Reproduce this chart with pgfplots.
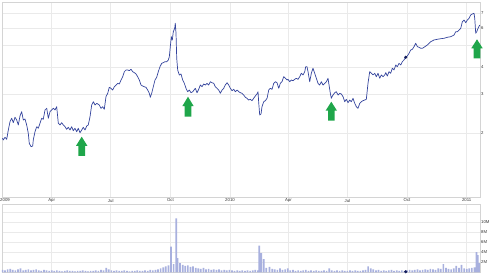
\documentclass[border=0pt]{standalone}
\usepackage{fontspec}
\setmainfont{Liberation Sans}
\usepackage{pgfplots}
\usepackage{pgfplotstable}
\pgfplotsset{compat=1.18}
\definecolor{priceline}{HTML}{33439C}
\definecolor{volbar}{HTML}{A8B0DE}
\definecolor{gridc}{HTML}{EAEAEA}
\definecolor{framec}{HTML}{D4D4D4}
\definecolor{labc}{HTML}{333333}
\definecolor{arrowgreen}{HTML}{1FA64A}
\definecolor{marknavy}{HTML}{101A5A}

\pgfplotstableread{
d p
14 1.892
15.3 1.859
18.0 1.912
20.6 1.872
23.1 2.064
25.7 2.251
28.3 2.333
30.8 2.228
33.4 2.357
36.0 2.292
38.5 2.175
41.1 2.390
43.7 2.500
46.2 2.292
48.8 2.316
51.4 2.175
53.9 1.994
55.4 1.796
58.1 1.733
60.7 1.745
61.6 1.859
64.2 2.027
66.9 2.136
69.3 2.101
71.9 2.214
74.6 2.333
77.0 2.308
79.7 2.545
82.3 2.590
84.8 2.333
87.4 2.500
90.0 2.545
92.5 2.590
95.1 2.545
97.7 2.634
100.2 2.214
102.8 2.175
105.4 2.228
107.9 2.175
110.5 2.136
113.1 2.079
115.6 2.123
118.2 2.064
120.8 2.136
123.3 2.049
125.9 2.101
128.6 2.027
131.0 2.101
133.6 2.006
136.3 2.064
138.7 2.123
141.4 2.064
144.0 2.152
146.4 2.175
149.1 2.372
151.7 2.681
154.2 2.775
156.8 2.681
159.4 2.729
163.4 2.681
166.0 2.590
168.6 2.634
171.1 2.563
173.7 2.924
176.4 3.030
178.8 3.226
181.5 3.193
184.1 3.136
186.5 3.246
189.2 3.305
191.8 3.364
194.3 3.340
196.9 3.482
199.5 3.605
202.0 3.800
204.6 3.868
207.2 3.868
209.7 3.840
212.3 3.897
214.9 3.800
217.4 3.761
220.0 3.710
222.6 3.605
225.1 3.482
227.7 3.305
230.3 3.270
232.8 3.246
235.4 3.226
238.0 3.136
240.5 3.030
242.1 2.906
244.2 3.030
246.7 3.246
249.3 3.482
251.9 3.582
254.4 3.800
257.0 4.003
259.7 4.148
262.1 4.174
264.7 4.218
267.4 4.218
269.8 4.294
271.4 4.445
272.9 4.937
274.5 5.480
276.0 5.294
277.5 5.773
279.7 5.983
280.6 6.304
281.7 5.678
282.8 4.371
284.3 3.868
286.8 3.671
289.4 3.710
292.0 3.482
294.5 3.364
297.1 3.193
299.7 3.081
302.2 3.136
304.8 3.049
307.5 3.081
311.5 3.193
314.1 3.049
316.7 3.159
319.2 3.305
321.8 3.246
324.4 3.340
326.9 3.305
329.5 3.364
332.1 3.305
334.6 3.421
337.2 3.385
339.9 3.364
342.3 3.246
345.0 3.193
347.6 3.136
350.0 3.030
352.7 3.136
355.3 3.193
357.7 3.305
360.4 3.385
363.0 3.305
365.5 3.193
368.1 3.113
370.7 3.159
373.2 3.081
375.8 3.136
378.4 3.081
380.9 3.049
383.5 3.030
386.1 2.977
388.6 2.906
391.2 2.876
393.8 2.825
396.3 2.846
398.9 2.805
401.5 2.876
404.0 2.946
406.6 3.008
408.2 3.081
409.3 2.729
410.8 2.415
412.8 2.440
414.3 2.634
417.0 2.775
419.5 2.805
422.1 2.876
424.7 3.136
427.1 3.193
429.8 3.159
432.4 3.364
434.9 3.421
437.5 3.385
440.1 3.193
442.6 3.364
445.2 3.421
447.8 3.605
450.3 3.545
452.9 3.482
454.4 3.508
457.1 3.421
459.5 3.482
462.2 3.457
464.8 3.508
467.2 3.545
469.9 3.508
472.5 3.605
474.9 3.737
477.6 3.671
480.2 3.800
481.7 4.003
483.7 4.003
485.3 3.800
487.9 3.421
490.4 3.737
493.0 3.938
495.6 3.737
498.1 3.545
500.7 3.364
503.3 3.305
505.8 3.421
508.4 3.305
511.0 3.364
513.5 3.421
516.1 3.545
517.7 3.305
519.7 3.030
521.2 2.876
523.8 2.977
526.5 3.049
528.9 3.081
531.6 2.977
534.2 3.030
536.6 3.008
539.3 2.924
541.9 2.775
544.4 2.846
547.0 2.747
549.6 2.825
552.1 2.775
554.7 2.876
557.3 2.729
559.8 2.634
562.4 2.590
565.0 2.729
567.5 2.775
570.1 2.805
572.7 2.825
575.2 2.846
577.8 3.364
580.4 3.800
582.9 3.737
585.5 3.671
588.2 3.737
590.6 3.605
593.2 3.737
595.9 3.545
598.3 3.671
601.0 3.605
603.6 3.671
605.1 3.761
607.6 3.631
610.2 3.800
612.8 3.737
615.3 3.938
617.9 3.868
620.6 4.075
623.0 4.003
625.6 4.148
628.3 4.075
630.7 4.218
633.3 4.294
636.0 4.417
638.4 4.477
641.1 4.606
643.7 4.768
646.2 4.803
648.8 4.937
651.4 5.114
653.9 4.937
656.5 4.904
659.1 4.853
661.6 4.853
664.2 4.904
669.3 5.024
674.5 5.200
679.6 5.294
684.7 5.333
690.0 5.366
695.0 5.388
700.1 5.445
705.4 5.480
710.5 5.579
713.1 5.773
715.6 5.773
718.2 5.877
720.8 5.983
723.3 6.411
725.9 6.526
728.5 6.344
731.0 6.526
733.6 6.643
736.2 6.877
738.7 6.949
741.3 7.000
742.4 6.643
743.9 5.678
745.5 5.773
747.5 5.983
750.1 6.193
}\pricetable

\pgfplotstableread{
d v
14 0.5
18 0.4
22 0.6
26 0.7
30 0.5
34 0.4
38 0.6
42 0.8
46 0.4
50 0.5
54 0.6
58 0.4
62 0.5
66 0.6
70 0.4
74 0.3
78 0.5
82 0.4
86 0.3
90 0.4
94 0.3
98 0.4
102 0.3
106 0.2
110 0.3
114 0.4
118 0.3
122 0.3
126 0.2
130 0.3
134 0.3
138 0.4
142 0.3
146 0.2
150 0.3
154 0.3
158 0.4
162 0.3
166 0.5
170 0.4
174 0.9
178 0.6
182 0.4
186 0.3
190 0.4
194 0.3
198 0.3
202 0.4
206 0.3
210 0.2
214 0.3
218 0.3
222 0.4
226 0.3
230 0.3
234 0.4
238 0.3
242 0.5
246 0.4
250 0.5
254 0.6
258 0.8
262 1.0
266 1.2
270 1.4
274 5.1
278 1.6
282 10.7
284 2.8
288 1.8
292 1.5
296 1.3
300 1.4
304 1.1
308 1.2
312 0.9
316 0.8
320 0.7
324 0.9
328 0.6
332 0.7
336 0.5
340 0.6
344 0.5
348 0.6
352 0.4
356 0.5
360 0.4
364 0.5
368 0.4
372 0.3
376 0.4
380 0.3
384 0.4
388 0.3
392 0.4
396 0.3
400 0.4
404 0.5
408 0.4
410 5.3
413 3.8
417 2.6
421 0.9
426 1.1
430 0.7
434 0.6
438 0.5
442 0.8
446 0.5
450 0.6
454 0.8
458 0.4
462 0.5
466 0.3
470 0.4
474 0.3
478 0.4
482 0.5
486 0.3
490 0.4
494 0.3
498 0.4
502 0.3
506 0.3
510 0.4
514 0.3
518 0.8
522 0.4
526 0.3
530 0.4
534 0.3
538 0.4
542 0.3
546 0.3
550 0.4
554 0.3
558 0.4
562 0.3
566 0.3
570 0.4
574 0.5
578 1.2
582 0.8
586 0.6
590 0.4
594 0.5
598 0.3
602 0.4
606 0.3
610 0.4
614 0.5
618 0.3
622 0.4
626 0.3
630 0.4
634 0.3
638 0.4
642 0.5
646 0.4
650 0.5
654 0.6
658 0.4
662 0.5
666 0.6
670 0.5
674 0.7
678 0.6
682 0.5
686 0.8
690 0.7
694 1.6
698 0.9
702 0.7
706 0.6
710 0.8
714 1.3
718 0.9
722 1.5
726 0.8
730 0.7
734 0.8
738 0.9
742 1.0
745 4.0
747 3.4
749 1.8
}\voltable

\newcommand{\garrow}[3]{% center x, tip y, bottom y (pixels from top)
  \pgfmathsetmacro{\gmid}{275-(#2+#3)/2+0.5}%
  \fill[arrowgreen] (#1pt,{(275-#2)*1pt}) -- ({(#1+5.7)*1pt},\gmid pt) -- ({(#1+3.3)*1pt},\gmid pt)
    -- ({(#1+3.3)*1pt},{(275-#3)*1pt}) -- ({(#1-3.3)*1pt},{(275-#3)*1pt}) -- ({(#1-3.3)*1pt},\gmid pt)
    -- ({(#1-5.7)*1pt},\gmid pt) -- cycle;}

\pgfplotsset{
  gchart/.style={
    scale only axis,
    width=478pt,
    xmin=13.35, xmax=750.5,
    xtick={90,181,273,365,455,546,638,730},
    grid=major,
    major grid style={draw=gridc, line width=0.5pt},
    axis line style={draw=framec, line width=0.5pt},
    major tick length=0pt,
    tick style={draw=none},
    yticklabel pos=right,
    tick label style={font=\fontsize{4.3}{5}\selectfont, text=labc, inner sep=1pt},
    /pgf/number format/assume math mode=true,
  }
}

\begin{document}
\begin{tikzpicture}
\useasboundingbox (0pt,0pt) rectangle (490pt,275pt);
\begin{axis}[gchart,
  at={(2pt,273pt)}, anchor=north west,
  height=195pt,
  ymode=log, ymin=1.0236, ymax=7.88,
  ytick={2,3,4,5,6,7}, yticklabels={2,3,4,,6,7},
  xticklabels={Apr,Jul,Oct,2010,Apr,Jul,Oct,2011},
  extra x ticks={18}, extra x tick labels={2009},
  extra x tick style={grid=none},
  xticklabel style={yshift=-0.8pt},
]
\addplot[priceline, line width=0.7pt, line join=round] table[x=d,y=p] {\pricetable};
\addplot[only marks, mark=*, mark size=1.3pt, mark options={fill=marknavy, draw=marknavy}] coordinates {(636,4.417)};
\end{axis}
\begin{axis}[gchart,
  at={(2pt,71pt)}, anchor=north west,
  height=68.3pt,
  ymin=0, ymax=13.58,
  ytick={2,4,6,8,10,12}, yticklabels={2M,4M,6M,8M,10M,},
  xticklabels={},
]
\addplot[ybar, bar width=1.7pt, fill=volbar, draw=none] table[x=d,y=v] {\voltable};
\addplot[only marks, mark=*, mark size=1.4pt, mark options={fill=marknavy, draw=marknavy}] coordinates {(636,0.1)};
\end{axis}
\garrow{81.7}{136.7}{156}
\garrow{188}{96.7}{116.7}
\garrow{331.3}{101.7}{120.7}
\garrow{477}{39.3}{58.3}
\end{tikzpicture}
\end{document}
